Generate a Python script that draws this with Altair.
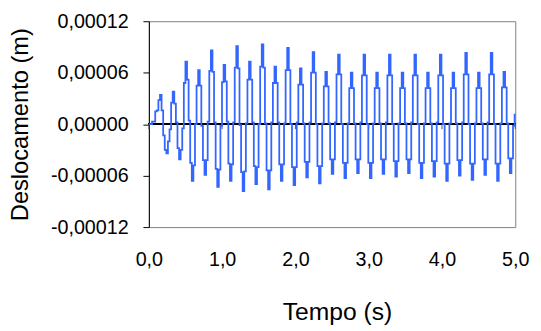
import altair as alt
import pandas as pd

# Deslocamento, em micrómetros (1e-6 m), amostras a cada passo_s segundos
passo_s = 0.0217
desl_um = [
    0, 0, 3, 3, 15, 16, 28,
    34, 16, -13, -30, -34, -20, -6, 25,
    38, 24, 2, -28, -41, -30, -5, 48,
    73, 52, 4, -45, -66, -48, 0, 45,
    63, 45, -2, -42, -59, -42, 3, 62,
    86, 61, 2, -52, -73, -53, -2, 49,
    69, 50, 3, -46, -66, -47, 2, 66,
    91, 65, -1, -56, -78, -55, 1, 52,
    73, 52, 2, -49, -70, -50, 0, 67,
    93, 66, 1, -54, -76, -54, 2, 48,
    67, 48, 2, -47, -66, -47, 1, 63,
    89, 63, 0, -50, -71, -50, 2, 46,
    65, 46, 1, -44, -62, -44, 2, 60,
    84, 60, 0, -49, -69, -49, 1, 44,
    61, 44, 1, -41, -58, -41, 2, 58,
    81, 58, 0, -45, -63, -45, 1, 42,
    60, 42, 1, -41, -57, -41, 2, 57,
    81, 57, 0, -45, -63, -45, 1, 42,
    60, 42, 1, -41, -58, -41, 2, 57,
    81, 57, 0, -43, -61, -43, 1, 42,
    60, 42, 1, -41, -57, -41, 2, 57,
    81, 57, 0, -45, -63, -45, 1, 42,
    60, 42, 1, -43, -61, -43, 2, 57,
    81, 57, 0, -46, -66, -46, 1, 42,
    60, 42, 1, -42, -60, -42, 2, 58,
    83, 58, 0, -46, -65, -46, 1, 42,
    60, 42, 1, -41, -59, -41, 2, 58,
    83, 58, 0, -46, -66, -46, 1, 43,
    61, 43, 1, -40, -57, -40, -2, 12,
]

x_ticks = [0, 1, 2, 3, 4, 5]
y_ticks = [-0.00012, -0.00006, 0.0, 0.00006, 0.00012]

df = pd.DataFrame({
    "t": [round(i * passo_s, 4) for i in range(len(desl_um))],
    "d": [v * 1e-6 for v in desl_um],
})
ticks_df = pd.DataFrame({"t": x_ticks})

FONT = "Liberation Sans"

x_scale = alt.Scale(domain=[0, 5], nice=False, zero=False)
y_scale = alt.Scale(domain=[-0.00012, 0.00012], nice=False, zero=False)

x_axis = alt.Axis(
    values=x_ticks,
    labelExpr="replace(format(datum.value, '.1f'), '.', ',')",
    title="Tempo (s)",
    grid=False, domain=False, ticks=False, tickSize=0,
    labelPadding=23, labelFontSize=20, labelFont=FONT, labelColor="black",
    titleFontSize=25, titleFont=FONT, titleFontWeight="normal", titleColor="black",
    titleX=191, titleY=94, titleAlign="center", titleBaseline="alphabetic",
    labelFlush=False,
)
y_axis = alt.Axis(
    values=y_ticks,
    labelExpr="replace(replace(format(datum.value, '.5f'), '.', ','), '\u2212', '-')",
    title="Deslocamento (m)",
    grid=False, domain=True, domainColor="black", domainWidth=1,
    ticks=True, tickSize=6, tickColor="black", tickWidth=1,
    labelPadding=15, labelFontSize=20, labelFont=FONT, labelColor="black",
    titleFontSize=24, titleFont=FONT, titleFontWeight="normal", titleColor="black",
    titleX=-123, titleY=104.5, titleAlign="center", titleBaseline="alphabetic",
    titleAngle=270, labelFlush=False,
)

base = alt.Chart(df)

zero_line = alt.Chart(df).mark_rule(color="black", strokeWidth=1).encode(
    y=alt.datum(0, scale=y_scale)
)

zero_ticks = alt.Chart(ticks_df).mark_rule(color="#555555", strokeWidth=1, y2Offset=5).encode(
    x=alt.X("t:Q", scale=x_scale),
    y=alt.datum(0),
    y2=alt.datum(0),
)

line = base.mark_line(color="#3366ff", strokeWidth=1.8, interpolate="step-after").encode(
    x=alt.X("t:Q", scale=x_scale, axis=x_axis),
    y=alt.Y("d:Q", scale=y_scale, axis=y_axis),
)

chart = alt.layer(zero_line, zero_ticks, line).properties(
    width=372,
    height=209,
    autosize=alt.AutoSizeParams(type="none"),
    padding={"left": 143, "top": 11, "right": 18, "bottom": 100},
    background="white",
).configure_view(
    stroke="#808080", strokeWidth=1
)

chart.save("out.html", embed_options={"renderer": "svg", "actions": False})
